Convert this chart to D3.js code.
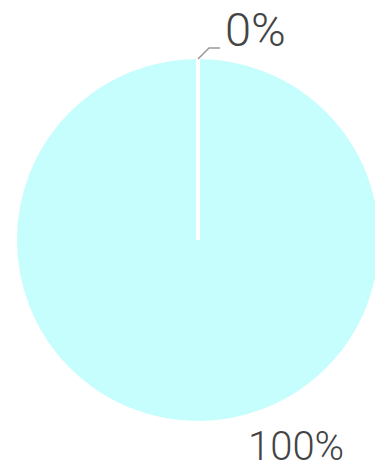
<!DOCTYPE html>
<html>
<head>
<meta charset="utf-8">
<script src="https://cdn.jsdelivr.net/npm/d3@7"></script>
<style>
  html, body { margin: 0; padding: 0; background: #fff; }
  #chart { width: 375px; height: 467px; overflow: hidden; }
</style>
</head>
<body>
<div id="chart"></div>
<script>
// Data
var categories = ["A", "B"];
var values = [0, 100];
var labels = ["0%", "100%"];

var width = 375, height = 467;
var cx = 198, cy = 240, radius = 183;

var svg = d3.select("#chart")
  .append("svg")
  .attr("width", width)
  .attr("height", height);

var g = svg.append("g")
  .attr("transform", "translate(" + cx + "," + cy + ")");

var pie = d3.pie().sort(null).value(function(d) { return d; });
var arcs = pie(values);

var arc = d3.arc().innerRadius(0).outerRadius(radius);

// Slices
g.selectAll("path.slice")
  .data(arcs)
  .enter()
  .append("path")
  .attr("class", "slice")
  .attr("d", arc)
  .attr("fill", "#c6fdfd")
  .attr("stroke", "#fff")
  .attr("stroke-width", 4)
  .attr("stroke-linejoin", "round");

// point on the rim at a given angle
function polar(a, r) {
  return [Math.sin(a) * r, -Math.cos(a) * r];
}

// Slice borders (a full-circle arc has no radial edge, so draw them)
g.selectAll("line.border")
  .data(arcs)
  .enter()
  .append("line")
  .attr("class", "border")
  .attr("x1", 0)
  .attr("y1", 0)
  .attr("x2", function(d) { return polar(d.startAngle, radius)[0]; })
  .attr("y2", function(d) { return polar(d.startAngle, radius)[1]; })
  .attr("stroke", "#fff")
  .attr("stroke-width", 4);

// Leader line only for the tiny slice
g.selectAll("polyline.leader")
  .data(arcs.filter(function(d) { return d.value === 0; }))
  .enter()
  .append("polyline")
  .attr("class", "leader")
  .attr("points", function(d) {
    var p = polar((d.startAngle + d.endAngle) / 2, radius - 2);
    return [p, [p[0] + 11, p[1] - 11], [p[0] + 22, p[1] - 11]].join(" ");
  })
  .attr("fill", "none")
  .attr("stroke", "#999")
  .attr("stroke-width", 1.5);

// Labels
g.selectAll("text.label")
  .data(arcs)
  .enter()
  .append("text")
  .attr("class", "label")
  .attr("x", function(d) {
    var p = polar((d.startAngle + d.endAngle) / 2, radius);
    return d.value === 0 ? p[0] + 27 : p[0] + 50;
  })
  .attr("y", function(d) {
    var p = polar((d.startAngle + d.endAngle) / 2, radius);
    return d.value === 0 ? p[1] - 28 : p[1] + 23;
  })
  .attr("dominant-baseline", "central")
  .attr("font-family", "Roboto, sans-serif")
  .attr("font-weight", 300)
  .attr("font-size", function(d) { return d.value === 0 ? 47 : 40; })
  .attr("fill", "#444")
  .text(function(d, i) { return labels[i]; });
</script>
</body>
</html>
